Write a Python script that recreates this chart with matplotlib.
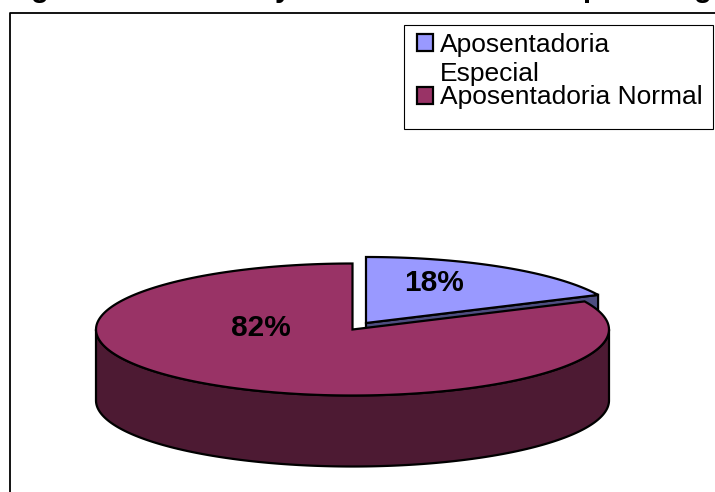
import numpy as np
import matplotlib
matplotlib.use("Agg")
import matplotlib.pyplot as plt
from matplotlib.patches import Polygon, Rectangle

plt.rcParams['font.family'] = ['Liberation Sans', 'DejaVu Sans']

categories = ["Aposentadoria\nEspecial", "Aposentadoria Normal"]
values = [18, 82]
value_labels = ["18%", "82%"]
top_colors = ["#9999FF", "#993366"]
side_colors = ["#4D4D80", "#4D1A33"]
title_fragments = ["g", "y", "p", "g"]   # only descenders of the cropped title are visible
title_x = [40, 283, 591, 703]

fig = plt.figure(figsize=(7.15, 4.92), dpi=100)
ax = fig.add_axes([0, 0, 1, 1])
ax.set_xlim(0, 715)
ax.set_ylim(492, 0)
ax.axis("off")

RX, RY, DEPTH = 256.5, 66, 71
LW = 1.6


def arc(cx, cy, a0, a1, n=200):
    t = np.radians(np.linspace(a0, a1, n))
    return np.column_stack([cx + RX * np.sin(t), cy - RY * np.cos(t)])


def draw_slice(cx, cy, a0, a1, top, side):
    edge = arc(cx, cy, a0, a1)
    # outer wall: the part of the rim facing the viewer (90..270 deg clockwise from top)
    lo, hi = max(a0, 90), min(a1, 270)
    if hi > lo:
        r = arc(cx, cy, lo, hi)
        wall = np.vstack([r, r[::-1] + [0, DEPTH]])
        ax.add_patch(Polygon(wall, closed=True, fc=side, ec="black", lw=LW, joinstyle="round", zorder=2))
    ax.add_patch(Polygon(np.vstack([[cx, cy], edge]), closed=True, fc=top, ec="black",
                         lw=LW, joinstyle="miter", zorder=3))


angles = np.cumsum([0] + values) * 3.6

# exploded slice: cut wall first, then top
c0 = (366, 323)
end = arc(*c0, angles[0], angles[1])[-1]
ax.add_patch(Polygon([c0, end, end + [0, DEPTH], np.array(c0) + [0, DEPTH]], closed=True,
                     fc=side_colors[0], ec="black", lw=LW, zorder=1))
draw_slice(*c0, angles[0], angles[1], top_colors[0], side_colors[0])
draw_slice(352.5, 329.5, angles[1], angles[2], top_colors[1], side_colors[1])

ax.text(433.5, 283, value_labels[0], fontsize=21.5, fontweight="bold", ha="center", va="center", zorder=5)
ax.text(260.5, 328.5, value_labels[1], fontsize=21.5, fontweight="bold", ha="center", va="center", zorder=5)

# frame (left and top only reach the crop edges)
ax.plot([9.5, 9.5, 715], [492, 12.7, 12.7], color="black", lw=1.3, clip_on=False, zorder=6)

# cropped title
for ch, x in zip(title_fragments, title_x):
    ax.text(x, -3, ch, fontsize=21, fontweight="bold", ha="center", va="baseline", zorder=6, clip_on=False)

# legend
ax.add_patch(Rectangle((404, 25), 309, 104, fc="white", ec="black", lw=0.8, zorder=6))
ax.add_patch(Rectangle((417, 34), 16, 17, fc=top_colors[0], ec="black", lw=LW, zorder=7))
ax.add_patch(Rectangle((417, 87), 16, 17, fc=top_colors[1], ec="black", lw=LW, zorder=7))
line1, line2 = categories[0].split("\n")
ax.text(440, 52, line1, fontsize=19, ha="left", va="baseline", zorder=7)
ax.text(440, 81, line2, fontsize=19, ha="left", va="baseline", zorder=7)
ax.text(440, 104, categories[1], fontsize=19, ha="left", va="baseline", zorder=7)

fig.savefig("out.png", dpi=100)
